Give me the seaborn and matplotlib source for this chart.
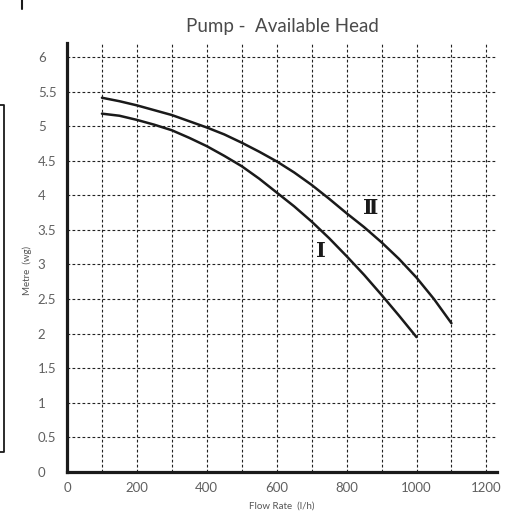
import matplotlib
matplotlib.use('Agg')
import matplotlib.pyplot as plt
from matplotlib.lines import Line2D
import seaborn as sns
import pandas as pd

# Flow rate (l/h) and available head (m)
flow_1 = [100, 150, 200, 250, 300, 350, 400, 450, 500, 550, 600, 650, 700, 750, 800, 850, 900, 950, 1000]
head_1 = [5.18, 5.15, 5.09, 5.02, 4.94, 4.83, 4.71, 4.57, 4.42, 4.24, 4.04, 3.84, 3.62, 3.38, 3.12, 2.85,
          2.56, 2.26, 1.95]

flow_2 = [100, 150, 200, 250, 300, 350, 400, 450, 500, 550, 600, 650, 700, 750, 800, 850, 900, 950, 1000,
          1050, 1100]
head_2 = [5.41, 5.36, 5.30, 5.23, 5.16, 5.07, 4.98, 4.88, 4.76, 4.63, 4.49, 4.33, 4.15, 3.95, 3.74, 3.54,
          3.32, 3.08, 2.81, 2.50, 2.15]

x_ticks = [0, 200, 400, 600, 800, 1000, 1200]
y_ticks = [0, 0.5, 1, 1.5, 2, 2.5, 3, 3.5, 4, 4.5, 5, 5.5, 6]
y_tick_labels = ['0', '0.5', '1', '1.5', '2', '2.5', '3', '3.5', '4', '4.5', '5', '5.5', '6']

df = pd.concat([
    pd.DataFrame({'flow': flow_1, 'head': head_1, 'pump': 'I'}),
    pd.DataFrame({'flow': flow_2, 'head': head_2, 'pump': 'II'}),
])

sns.set_style('white')
plt.rcParams['font.family'] = ['Lato', 'DejaVu Sans']

fig = plt.figure(figsize=(5.13, 5.18), dpi=100)
ax = fig.add_axes([0.1306, 0.0888, 0.838, 0.828])

sns.lineplot(data=df, x='flow', y='head', hue='pump', palette=['#1a1a1a', '#1a1a1a'],
             linewidth=1.8, legend=False, ax=ax)

ax.set_xlim(0, 1230)
ax.set_ylim(0, 6.2)

# dashed grid every 100 l/h and every 0.5 m
ax.set_xticks(x_ticks)
ax.set_xticks([x for x in range(100, 1300, 100)], minor=True)
ax.set_yticks(y_ticks)
ax.set_yticklabels(y_tick_labels)
ax.grid(True, which='both', color='#222222', linestyle=(0, (2.5, 2)), linewidth=0.8)

ax.tick_params(axis='y', direction='in', length=9.5, width=1.4, color='#1a1a1a',
               pad=21, labelsize=9.5, labelcolor='#606060')
for lbl in ax.get_yticklabels():
    lbl.set_horizontalalignment('left')
ax.tick_params(axis='x', which='both', direction='in', length=8.5, width=1.1, color='#1a1a1a',
               pad=7, labelsize=9.5, labelcolor='#606060')
ax.tick_params(axis='x', which='minor', labelbottom=False)

for side in ['top', 'right']:
    ax.spines[side].set_visible(False)
for side in ['left', 'bottom']:
    ax.spines[side].set_linewidth(2.3)
    ax.spines[side].set_color('#1a1a1a')

ax.set_xlabel('Flow Rate  (l/h)', fontsize=7, color='#555555', labelpad=6)
ax.set_ylabel('Metre  (wg)', fontsize=7, color='#555555')
ax.yaxis.set_label_coords(-0.081, 0.47)
ax.set_title('Pump -  Available Head', fontsize=13.5, color='#4a4a4a', pad=8)

# curve labels
ax.text(726, 3.19, 'I', family=['DejaVu Serif'], fontsize=15, fontweight='bold',
        ha='center', va='center', color='#1a1a1a')
ax.text(869, 3.81, '\u2161', family=['DejaVu Serif', 'DejaVu Sans'], fontsize=15, fontweight='bold',
        ha='center', va='center', color='#1a1a1a')

# stray marks left over from the original page crop
fig.add_artist(Line2D([22 / 513, 22 / 513], [1, 1 - 9 / 518], color='#1a1a1a', linewidth=1.5))
fig.add_artist(Line2D([0, 4 / 513, 4 / 513, 0],
                      [1 - 105 / 518, 1 - 105 / 518, 1 - 452 / 518, 1 - 452 / 518],
                      color='#1a1a1a', linewidth=1.3))

fig.savefig('out.png', dpi=100)
plt.close(fig)
